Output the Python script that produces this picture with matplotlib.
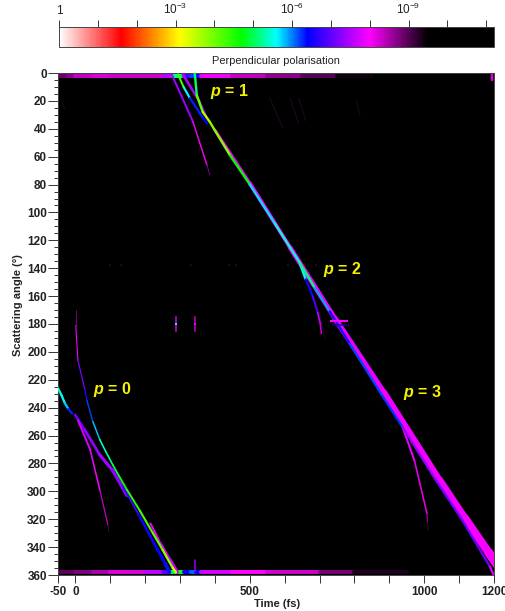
import numpy as np
import matplotlib
matplotlib.use("Agg")
import matplotlib.pyplot as plt
from matplotlib.collections import LineCollection
from matplotlib.colors import LinearSegmentedColormap, LogNorm
from matplotlib.cm import ScalarMappable

plt.rcParams['font.family'] = ['Liberation Sans', 'DejaVu Sans']
plt.rcParams['mathtext.fontset'] = 'custom'
plt.rcParams['mathtext.rm'] = 'Liberation Sans'
plt.rcParams['mathtext.bfit'] = 'Liberation Sans:italic:bold'
plt.rcParams['axes.unicode_minus'] = False

# Colour scale, exponent of the intensity against colour
scale_exp = [0, 1.6, 3.1, 4.7, 5.6, 6.4, 8.0, 9.5, 11.2]
scale_col = ['white', 'red', 'yellow', 'lime', 'cyan', 'blue', 'magenta', 'black', 'black']

# Branches: time (fs), angle (deg), -log10(intensity)
p0_time = [-50, -40, -30, -20, -10]
p0_angle = [226, 231, 237, 241, 244]
p0_exp = [5.2, 5.8, 5.4, 6.2, 6.4]

p0_curve_time = [1, 1, 7, 27, 33, 50, 70, 88, 107, 125, 148, 185, 222, 250, 279, 288]
p0_curve_angle = [170, 181, 206, 227, 235, 250, 263, 272, 281, 289, 299, 314, 330, 342, 355, 358]
p0_curve_exp = [9.4, 8.2, 7.6, 6.8, 6.4, 6.0, 5.6, 5.2, 5.0, 4.8, 4.6, 4.3, 4.2, 4.0, 3.6, 3.2]

p0_wing_time = [-1, 27, 70, 107, 148]
p0_wing_angle = [245, 256, 274, 285, 303]
p0_wing_exp = [7.0, 7.2, 7.4, 7.4, 7.2]

p0_left_time = [135, 180, 225, 258, 270]
p0_left_angle = [296, 316, 337, 352, 358]
p0_left_exp = [7.0, 6.6, 6.4, 6.4, 6.3]

p0_right_time = [215, 243, 268, 292]
p0_right_angle = [323, 337, 348, 358]
p0_right_exp = [8.0, 7.8, 7.7, 7.6]

p0_tail_time = [7, 42, 70, 93, 96]
p0_tail_angle = [249, 270, 299, 324, 329]
p0_tail_exp = [7.6, 7.8, 8.0, 8.6, 9.3]

p1_time = [342, 348, 365, 385, 443, 500, 572, 643, 686, 729, 786, 881, 938, 1036, 1110, 1188, 1199]
p1_angle = [0, 16, 28, 35, 59, 80, 108, 136, 154, 171, 194, 232, 254, 293, 321, 354, 360]
p1_exp = [5.5, 4.6, 3.6, 3.6, 4.2, 5.2, 6.2, 4.7, 5.6, 6.2, 6.8, 5.6, 6.9, 7.7, 6.5, 7.6, 8.0]

p1_band_time = [400, 500, 615, 744, 884, 1044, 1116, 1185, 1216]
p1_band_angle = [41, 79, 125, 176, 229, 292, 319, 344, 355]
p1_band_exp = [8.0, 7.9, 8.0, 7.8, 7.9, 7.9, 7.9, 8.0, 8.0]

p1_left_time = [276, 337, 377, 385]
p1_left_angle = [1, 35, 66, 73]
p1_left_exp = [6.8, 7.9, 8.3, 9.2]

p1_mid_time = [294, 310, 328, 365, 377]
p1_mid_angle = [1, 10, 18, 32, 36]
p1_mid_exp = [3.5, 5.0, 6.2, 6.4, 6.4]

p1_mid2_time = [308, 357, 377]
p1_mid2_angle = [1, 21, 32]
p1_mid2_exp = [7.6, 7.4, 7.0]

p2_wing_time = [643, 660, 680, 695, 702, 705]
p2_wing_angle = [136, 148, 160, 172, 180, 187]
p2_wing_exp = [4.7, 6.4, 6.6, 7.2, 8.0, 8.6]

p3_tail_time = [938, 972, 1008, 1009, 1012]
p3_tail_angle = [254, 278, 316, 322, 328]
p3_tail_exp = [7.8, 7.9, 8.4, 8.8, 9.3]

top_time = [-50, -20, 0, 50, 100, 150, 250, 280, 293, 310, 330, 345, 360, 450, 550, 650, 750, 850]
top_exp = [8.9, 8.8, 8.5, 8.2, 8.2, 8.4, 8.2, 7.0, 3.4, 6.6, 7.0, 5.4, 7.6, 8.2, 8.5, 8.8, 9.2, 9.6]

bottom_time = [-50, 0, 50, 100, 200, 250, 275, 293, 310, 330, 345, 360, 450, 550, 700, 800, 950]
bottom_exp = [9.0, 8.9, 8.6, 8.4, 8.0, 7.2, 6.6, 3.2, 6.0, 6.8, 5.4, 7.4, 8.0, 8.0, 8.6, 9.0, 9.6]

corner_time = [1193, 1193]
corner_angle = [0, 5]
corner_exp = [8.0, 8.4]

spike_time = [288, 342]
spike_low = [175, 175]
spike_high = [185, 185]
spike_centre_exp = [5.4, 7.8]
spike_arm_exp = [8.2, 8.3]

edge_spike_time = [342, 342]
edge_spike_angle = [349, 358]
edge_spike_exp = [8.2, 6.5]

faint_time = [[-40, -30], [557, 594], [615, 640], [640, 660], [805, 815], [700, 715]]
faint_angle = [[20, 26], [18, 39], [18, 36], [18, 34], [20, 30], [172, 190]]

row_time = [100, 130, 330, 440, 460, 610, 645, 690]
row_angle = [138, 138, 138, 138, 138, 138, 138, 138]

label_time = [385, 710, 940, 50]
label_angle = [13, 141, 229, 227]
label_text = ['1', '2', '3', '0']

cb_ticks = [1, 1e-3, 1e-6, 1e-9]
cb_labels = ['1', '$10^{-3}$', '$10^{-6}$', '$10^{-9}$']

W, H = 506, 611
cmap = LinearSegmentedColormap.from_list(
    'pol', [(e / scale_exp[-1], c) for e, c in zip(scale_exp, scale_col)], N=512)
vmax = scale_exp[-1]


def px_lw(p):
    return p * 0.72


def draw_branch(ax, t, a, e, w0=2.0, w1=2.0, z=3):
    # one coloured segment between each pair of read points
    pts = np.column_stack([t, a])
    segs = np.stack([pts[:-1], pts[1:]], axis=1)
    mid = (np.array(e[:-1]) + np.array(e[1:])) / 2
    widths = px_lw(np.linspace(w0, w1, len(segs)))
    lc = LineCollection(segs, cmap=cmap, linewidths=widths, capstyle='round', zorder=z)
    lc.set_array(mid)
    lc.set_clim(0, vmax)
    ax.add_collection(lc)


fig = plt.figure(figsize=(W / 100, H / 100), dpi=100)

# colour bar
cax = fig.add_axes([59 / W, 1 - 47 / H, 435 / W, 20 / H])
sm = ScalarMappable(norm=LogNorm(vmin=10.0 ** -vmax, vmax=1), cmap=cmap.reversed())
cb = fig.colorbar(sm, cax=cax, orientation='horizontal')
cax.invert_xaxis()
cax.xaxis.set_ticks_position('top')
cax.xaxis.set_label_position('top')
cax.set_xticks(cb_ticks)
cax.set_xticklabels(cb_labels, fontsize=8.5, color='#222222')
cax.set_xticks([10.0 ** -d for d in range(1, 12) if d % 3], minor=True)
cax.set_xticklabels([], minor=True)
cax.tick_params(axis='x', which='both', length=5, width=0.7, color='#333333', pad=2)
cb.outline.set_linewidth(0.7)
cb.outline.set_edgecolor('#444444')
fig.text(276 / W, 1 - 61 / H, 'Perpendicular polarisation', fontsize=7.9, ha='center',
         va='center', color='#222222')

# main map
ax = fig.add_axes([58 / W, 1 - 575 / H, 436 / W, 502 / H])
ax.set_facecolor('black')
ax.set_xlim(-50, 1200)
ax.set_ylim(360, 0)

draw_branch(ax, top_time, [2] * len(top_time), top_exp, 4, 4, 2)
draw_branch(ax, bottom_time, [358] * len(bottom_time), bottom_exp, 4, 4, 2)
draw_branch(ax, corner_time, corner_angle, corner_exp, 2.5, 2.5, 2)
draw_branch(ax, p0_wing_time, p0_wing_angle, p0_wing_exp, 2.5, 3.5)
draw_branch(ax, p0_left_time, p0_left_angle, p0_left_exp, 2, 3.5)
draw_branch(ax, p0_right_time, p0_right_angle, p0_right_exp, 2, 3.5)
draw_branch(ax, p0_tail_time, p0_tail_angle, p0_tail_exp, 2, 0.8)
draw_branch(ax, p0_curve_time, p0_curve_angle, p0_curve_exp, 1, 2.4, 4)
draw_branch(ax, p0_time, p0_angle, p0_exp, 2.2, 2.5, 4)
draw_branch(ax, p1_band_time, p1_band_angle, p1_band_exp, 3, 9, 3)
draw_branch(ax, p1_left_time, p1_left_angle, p1_left_exp, 2, 1)
draw_branch(ax, p1_mid2_time, p1_mid2_angle, p1_mid2_exp, 2.5, 2)
draw_branch(ax, p1_mid_time, p1_mid_angle, p1_mid_exp, 2, 2.5, 4)
draw_branch(ax, p1_time, p1_angle, p1_exp, 2.4, 2.2, 5)
draw_branch(ax, p2_wing_time, p2_wing_angle, p2_wing_exp, 2.4, 1.5, 4)
draw_branch(ax, p3_tail_time, p3_tail_angle, p3_tail_exp, 2, 0.8)
draw_branch(ax, edge_spike_time, edge_spike_angle, edge_spike_exp, 1.5, 1.5, 4)

# short horizontal artefact after the p = 2 crossing
ax.plot([729, 780], [178, 178], color='magenta', lw=px_lw(2), zorder=6, solid_capstyle='butt')
ax.plot([735, 785], [181, 181], color='#14008c', lw=px_lw(1.5), zorder=6, solid_capstyle='butt')

# back scattering spikes
for t, lo, hi, ce, ae in zip(spike_time, spike_low, spike_high, spike_centre_exp, spike_arm_exp):
    ax.plot([t, t], [lo, hi], color=cmap(ae / vmax), lw=px_lw(1.5), zorder=3)
    ax.plot([t], [180], 's', color=cmap(ce / vmax), ms=2, mew=0, zorder=4)

for t, a in zip(faint_time, faint_angle):
    ax.plot(t, a, color='#1e0622', lw=px_lw(1.2), zorder=1)
ax.scatter(row_time, row_angle, s=4, marker='s', color='#200620', lw=0, zorder=1)

for t, a, s in zip(label_time, label_angle, label_text):
    ax.text(t, a, r'$\mathbfit{p}$ = ' + s, color='#f2f200', fontsize=11.5,
            fontweight='bold', ha='left', va='center', zorder=8)

ax.set_xticks([-50, 0, 100, 200, 300, 400, 500, 600, 700, 800, 900, 1000, 1100, 1200])
ax.set_xticklabels(['-50', '0', '', '', '', '', '500', '', '', '', '', '1000', '', '1200'],
                   fontsize=8.5, fontweight='bold', color='#222222')
ax.set_yticks(np.arange(0, 361, 20))
ax.set_yticks(np.arange(0, 361, 5), minor=True)
ax.tick_params(axis='y', which='major', length=7, width=0.7, labelsize=8.5, pad=1, color='#333333',
               labelcolor='#222222')
ax.tick_params(axis='y', which='minor', length=3, width=0.7, color='#333333')
ax.tick_params(axis='x', which='major', length=6, width=0.7, pad=2, color='#333333')
for lab in ax.get_yticklabels():
    lab.set_fontweight('bold')
for sp in ax.spines.values():
    sp.set_linewidth(0.7)
    sp.set_color('#444444')

fig.text(277 / W, 1 - 604 / H, 'Time (fs)', fontsize=8, fontweight='bold', ha='center',
         va='center', color='#222222')
fig.text(18 / W, 1 - 305 / H, 'Scattering angle (°)', fontsize=8, fontweight='bold', rotation=90,
         ha='center', va='center', color='#222222')

fig.savefig('out.png', dpi=100)
